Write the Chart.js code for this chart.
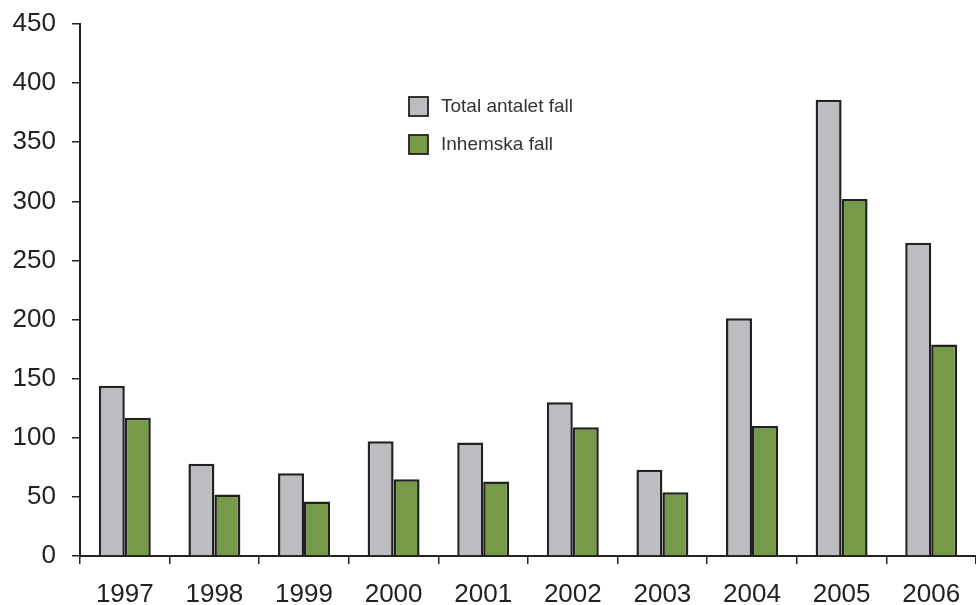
<!DOCTYPE html>
<html>
<head>
<meta charset="utf-8">
<script src="https://cdn.jsdelivr.net/npm/chart.js@4/dist/chart.umd.min.js"></script>
<style>
  html, body { margin: 0; padding: 0; background: #fff; }
  #wrap { width: 976px; height: 605px; position: relative; }
</style>
</head>
<body>
<div id="wrap"><canvas id="chart"></canvas></div>
<script>
const years = ['1997', '1998', '1999', '2000', '2001', '2002', '2003', '2004', '2005', '2006'];
const totalCases = [144, 78, 70, 97, 96, 130, 73, 201, 386, 265];
const domesticCases = [117, 52, 46, 65, 63, 109, 54, 110, 302, 179];
const seriesNames = ['Total antalet fall', 'Inhemska fall'];
const yTicks = [0, 50, 100, 150, 200, 250, 300, 350, 400, 450];

const FONT = '"Liberation Sans", Arial, sans-serif';
const INK = '#222';

// legend drawn inside the plot area, a small box plus label per dataset
const insideLegend = {
    id: 'insideLegend',
    afterDraw(chart) {
        const ctx = chart.ctx;
        ctx.save();
        chart.data.datasets.forEach((ds, i) => {
            const x = 409, y = 97 + i * 38;
            ctx.fillStyle = ds.backgroundColor;
            ctx.fillRect(x, y, 19, 19);
            ctx.lineWidth = 1.8;
            ctx.strokeStyle = INK;
            ctx.strokeRect(x, y, 19, 19);
            ctx.fillStyle = '#333';
            ctx.font = '19px ' + FONT;
            ctx.textBaseline = 'middle';
            ctx.fillText(ds.label, x + 32, y + 10);
        });
        ctx.restore();
    }
};

new Chart(document.getElementById('chart'), {
    type: 'bar',
    data: {
        labels: years,
        datasets: [
            {
                label: seriesNames[0],
                data: totalCases,
                backgroundColor: '#bcbdc1',
                borderColor: INK,
                borderWidth: 2.5,
                borderSkipped: 'start'
            },
            {
                label: seriesNames[1],
                data: domesticCases,
                backgroundColor: '#779a48',
                borderColor: INK,
                borderWidth: 2.5,
                borderSkipped: 'start'
            }
        ]
    },
    options: {
        responsive: true,
        maintainAspectRatio: false,
        animation: false,
        layout: { padding: { top: 24, right: 0, left: 0, bottom: 0 } },
        datasets: { bar: { categoryPercentage: 0.58, barPercentage: 1.0 } },
        plugins: {
            legend: { display: false },
            tooltip: { enabled: false }
        },
        scales: {
            x: {
                grid: { drawOnChartArea: false, drawTicks: true, tickLength: 8, color: INK, lineWidth: 1.5, offset: true },
                border: { color: INK, width: 2 },
                ticks: { color: INK, font: { family: FONT, size: 26 }, padding: 15, maxRotation: 0 },
                afterFit: scale => { scale.height = 49; scale.paddingLeft = 0; scale.paddingRight = 0; }
            },
            y: {
                min: 0,
                max: 450,
                afterBuildTicks: scale => { scale.ticks = yTicks.map(v => ({ value: v })); },
                grid: { drawOnChartArea: false, drawTicks: true, tickLength: 8, color: INK, lineWidth: 1.5 },
                border: { color: INK, width: 2 },
                ticks: { color: INK, font: { family: FONT, size: 26 }, padding: 16 },
                afterFit: scale => { scale.width = 80; scale.paddingTop = 0; scale.paddingBottom = 0; }
            }
        }
    },
    plugins: [insideLegend]
});
</script>
</body>
</html>
